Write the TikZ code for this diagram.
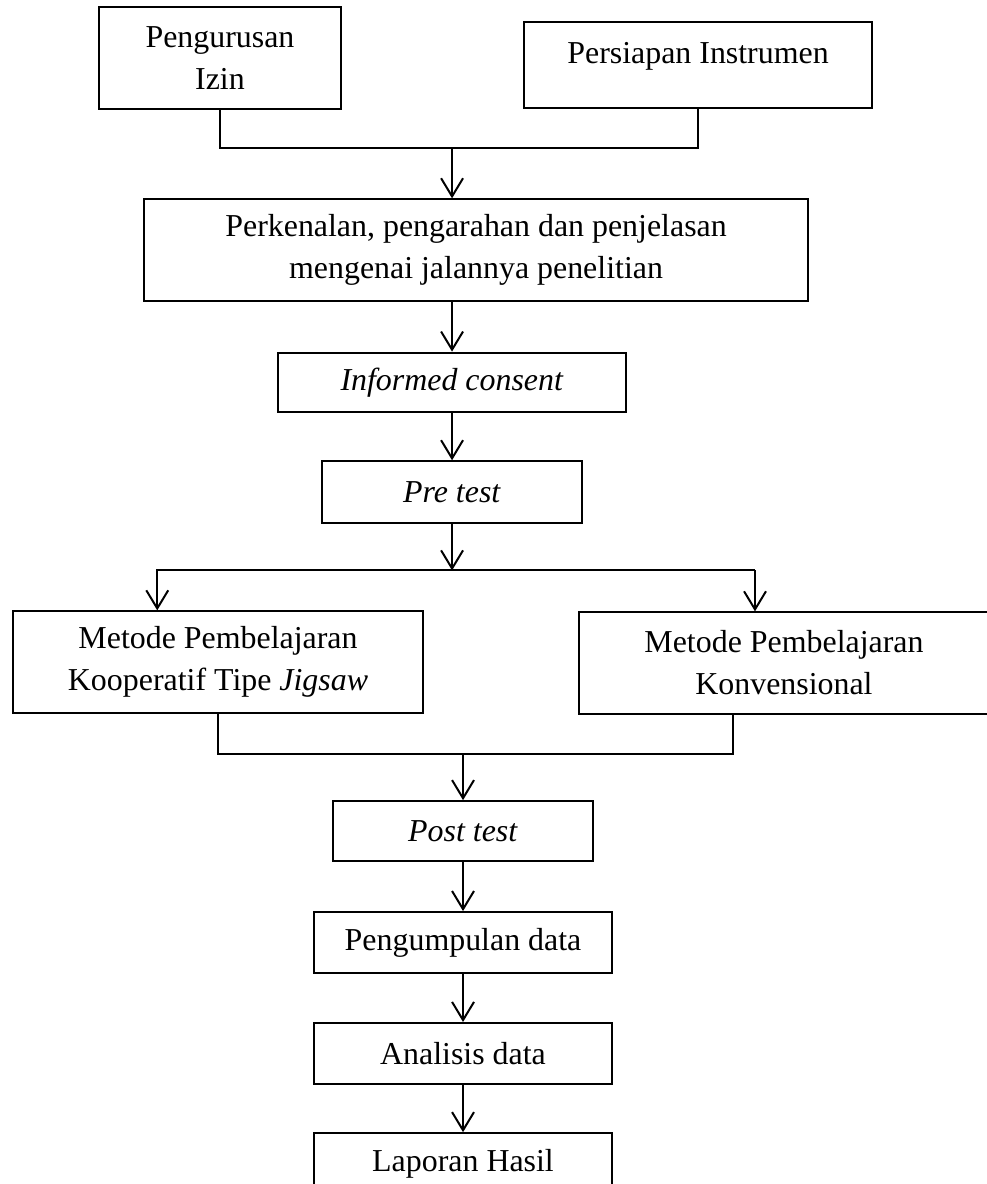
\documentclass[tikz,border=0pt]{standalone}
\usepackage{fontspec}
\setmainfont{Liberation Serif}
\usetikzlibrary{positioning,arrows.meta,calc}
\tikzset{
  box/.style={draw, line width=0.75pt, align=center, inner sep=2pt, font=\fontsize{12}{15.8}\selectfont},
  arrow/.style={-{Straight Barb[length=2.4mm, width=2.9mm]}, line width=0.75pt},
  link/.style={line width=0.75pt}
}
\begin{document}
\begin{tikzpicture}[node distance=0.64cm]
    \useasboundingbox (0,0) rectangle (13.035,-15.652);
    \node[box, minimum width=3.19cm, minimum height=1.35cm] (izin) at (2.908,-0.767) {Pengurusan\\Izin};
    \node[box, minimum width=4.61cm, minimum height=1.14cm] (instr) at (9.228,-0.859) {Persiapan Instrumen\\[-7pt]~};
    \node[box, minimum width=8.78cm, minimum height=1.34cm] (perk) at (6.293,-3.305) {Perkenalan, pengarahan dan penjelasan\\mengenai jalannya penelitian};
    \node[box, minimum width=4.61cm, minimum height=0.79cm, below=0.66cm of perk, xshift=-0.317cm] (consent) {\textit{Informed consent}};
    \node[box, minimum width=3.44cm, minimum height=0.81cm, below=0.62cm of consent] (pre) {\textit{Pre test}};
    \node[box, minimum width=5.42cm, minimum height=1.34cm] (jigsaw) at (2.882,-8.752) {Metode Pembelajaran\\Kooperatif Tipe \textit{Jigsaw}};
    \node[box, minimum width=5.42cm, minimum height=1.34cm] (konv) at (10.364,-8.765) {Metode Pembelajaran\\Konvensional};
    \node[box, minimum width=3.44cm, minimum height=0.79cm] (post) at (6.121,-10.986) {\textit{Post test}};
    \node[box, minimum width=3.95cm, minimum height=0.81cm, below=0.65cm of post] (kumpul) {Pengumpulan data};
    \node[box, minimum width=3.95cm, minimum height=0.81cm, below=0.63cm of kumpul] (analisis) {Analisis data};
    \node[box, minimum width=3.95cm, minimum height=0.81cm, below=0.62cm of analisis] (laporan) {Laporan Hasil};
    % junctions
    \coordinate (join) at ($(izin.south)+(0,-0.5)$);
    \coordinate (split) at ($(pre.south)+(0,-0.62)$);
    \coordinate (jin) at ($(jigsaw.north west)+(1.92,0)$);
    \coordinate (kin) at ($(konv.north west)+(2.34,0)$);
    \coordinate (kout) at ($(konv.south west)+(2.05,0)$);
    \coordinate (merge) at ($(jigsaw.south)+(0,-0.53)$);
    \draw[link] (izin.south) -- (join) -| (instr.south);
    \draw[arrow] (join -| consent.north) -- (consent.north |- perk.north);
    \draw[arrow] (perk.south -| consent.north) -- (consent.north);
    \draw[arrow] (consent) -- (pre);
    \draw[arrow] (pre) -- (split);
    \draw[arrow] (split -| kin) -- (split -| jin) -- (jin);
    \draw[arrow] (split -| kin) -- (kin);
    \draw[link] (jigsaw.south) -- (merge) -| (kout);
    \draw[arrow] (merge -| post.north) -- (post.north);
    \draw[arrow] (post) -- (kumpul);
    \draw[arrow] (kumpul) -- (analisis);
    \draw[arrow] (analisis) -- (laporan);
\end{tikzpicture}
\end{document}
